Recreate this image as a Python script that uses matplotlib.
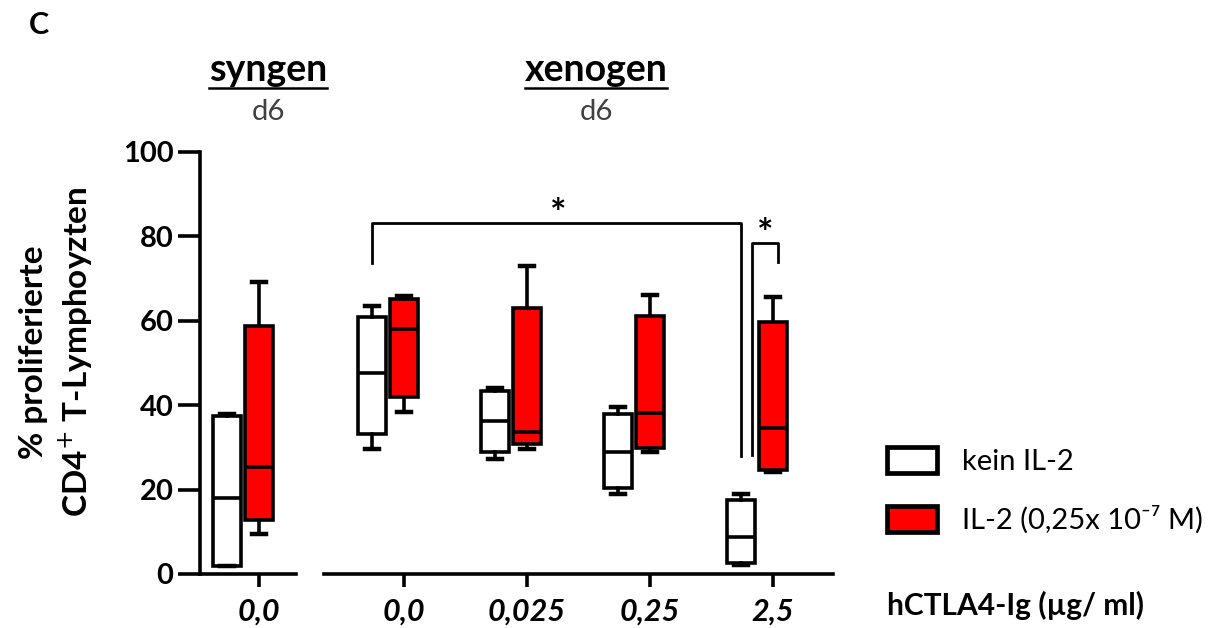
import matplotlib
matplotlib.use('Agg')
import matplotlib.pyplot as plt
from matplotlib.patches import Patch
from matplotlib.lines import Line2D

plt.rcParams['font.family'] = ['Lato', 'DejaVu Sans']

# data (box = min, q1, median, q3, max)
syn_labels = ['0,0']
xeno_labels = ['0,0', '0,025', '0,25', '2,5']

kein_min = [2.0, 29.6, 27.2, 19.0, 2.1]
kein_q1 = [2.0, 33.2, 28.9, 20.4, 2.6]
kein_med = [18.0, 47.6, 36.3, 29.0, 8.8]
kein_q3 = [37.5, 61.0, 43.4, 37.9, 17.5]
kein_max = [38.0, 63.5, 44.1, 39.6, 19.0]

il2_min = [9.5, 38.4, 29.6, 29.0, 24.2]
il2_q1 = [12.8, 41.9, 30.8, 29.9, 24.6]
il2_med = [25.4, 58.1, 33.6, 38.1, 34.6]
il2_q3 = [58.8, 65.2, 63.0, 61.1, 59.7]
il2_max = [69.2, 65.9, 73.0, 66.1, 65.6]

y_ticks = [0, 20, 40, 60, 80, 100]

W, H = 1222, 628
LW = 2.6
OFF = 0.26  # white box sits left of the tick
BW = 0.228


def stats(i, mn, q1, md, q3, mx):
    return dict(whislo=mn[i], q1=q1[i], med=md[i], q3=q3[i], whishi=mx[i], fliers=[])


def draw_boxes(ax, idx, pos):
    common = dict(widths=BW, patch_artist=True, showfliers=False, manage_ticks=False,
                  medianprops=dict(color='black', linewidth=LW),
                  whiskerprops=dict(color='black', linewidth=LW),
                  capprops=dict(color='black', linewidth=LW + 0.6), capwidths=0.12)
    ax.bxp([stats(i, kein_min, kein_q1, kein_med, kein_q3, kein_max) for i in idx],
           positions=[p - OFF for p in pos],
           boxprops=dict(facecolor='white', edgecolor='black', linewidth=LW), **common)
    ax.bxp([stats(i, il2_min, il2_q1, il2_med, il2_q3, il2_max) for i in idx],
           positions=pos,
           boxprops=dict(facecolor='#ff0000', edgecolor='black', linewidth=LW), **common)


def fx(px):
    return px / W


def fy(py):
    return 1 - py / H


fig = plt.figure(figsize=(12.22, 6.28), dpi=100)

bottom, top = fy(574), fy(152)
ax1 = fig.add_axes([fx(200), bottom, fx(296 - 200), top - bottom])
ax2 = fig.add_axes([fx(324), bottom, fx(833 - 324), top - bottom])

ax1.set_xlim((200 - 259) / 123, (296 - 259) / 123)
ax2.set_xlim((324 - 404) / 123, (833 - 404) / 123)

for ax in (ax1, ax2):
    ax.set_ylim(0, 100)
    ax.patch.set_alpha(0)
    for s in ['top', 'right']:
        ax.spines[s].set_visible(False)
    ax.spines['bottom'].set_linewidth(LW)
    ax.tick_params(axis='x', length=9, width=LW, pad=8)

ax2.spines['left'].set_visible(False)
ax2.set_yticks([])
ax1.spines['left'].set_linewidth(LW)
ax1.set_yticks(y_ticks)
ax1.set_yticklabels([str(t) for t in y_ticks], fontsize=21, fontweight='bold')
ax1.tick_params(axis='y', length=16, width=LW, pad=3)

draw_boxes(ax1, [0], [0])
draw_boxes(ax2, [1, 2, 3, 4], [0, 1, 2, 3])

ax1.set_xticks([0])
ax1.set_xticklabels(syn_labels, fontsize=22, fontweight='bold', style='italic')
ax2.set_xticks([0, 1, 2, 3])
ax2.set_xticklabels(xeno_labels, fontsize=22, fontweight='bold', style='italic')

# significance brackets
ax2.plot([-OFF, -OFF, 3 - OFF, 3 - OFF], [73.7, 83.2, 83.2, 28.0], color='black', lw=2,
         clip_on=False)
ax2.text(1.25, 85.2, '*', ha='center', va='center', fontsize=28, fontweight='bold')
ax2.plot([3 - 0.17, 3 - 0.17, 3.04, 3.04], [28.2, 78.4, 78.4, 73.9], color='black', lw=2,
         clip_on=False)
ax2.text(2.94, 80.4, '*', ha='center', va='center', fontsize=28, fontweight='bold')

fig.text(fx(57), fy(352), '% proliferierte\nCD4$^{+}$ T-Lymphoyzten', fontsize=24,
         fontweight='bold', rotation=90, ha='center', va='center', linespacing=1.3,
         multialignment='center')

# headers
fig.text(fx(39), fy(25), 'C', fontsize=22, fontweight='bold', ha='center', va='center')
heads = []
for x, name in [(268, 'syngen'), (596, 'xenogen')]:
    heads.append(fig.text(fx(x), fy(70), name, fontsize=27, fontweight='bold',
                          ha='center', va='center'))
    fig.text(fx(x), fy(112), 'd6', fontsize=21, color='#404040', ha='center', va='center')

fig.text(fx(887), fy(605), 'hCTLA4-Ig (µg/ ml)', fontsize=21.5, fontweight='bold',
         ha='left', va='center')

handles = [Patch(facecolor='white', edgecolor='black', linewidth=LW + 0.8),
           Patch(facecolor='#ff0000', edgecolor='black', linewidth=LW + 0.8)]
fig.legend(handles, ['kein IL-2', 'IL-2 (0,25x 10⁻⁷ M)'], loc='upper left',
           bbox_to_anchor=(fx(861), fy(421)), frameon=False, fontsize=21,
           handlelength=1.7, handleheight=1.0, labelspacing=1.03, handletextpad=0.85,
           borderpad=0.4)

# underline the group headers
fig.canvas.draw()
r = fig.canvas.get_renderer()
for t in heads:
    bb = t.get_window_extent(r)
    fig.add_artist(Line2D([bb.x0 / W, bb.x1 / W], [fy(88)] * 2, color='black', lw=1.8))

fig.savefig('out.png', dpi=100)
